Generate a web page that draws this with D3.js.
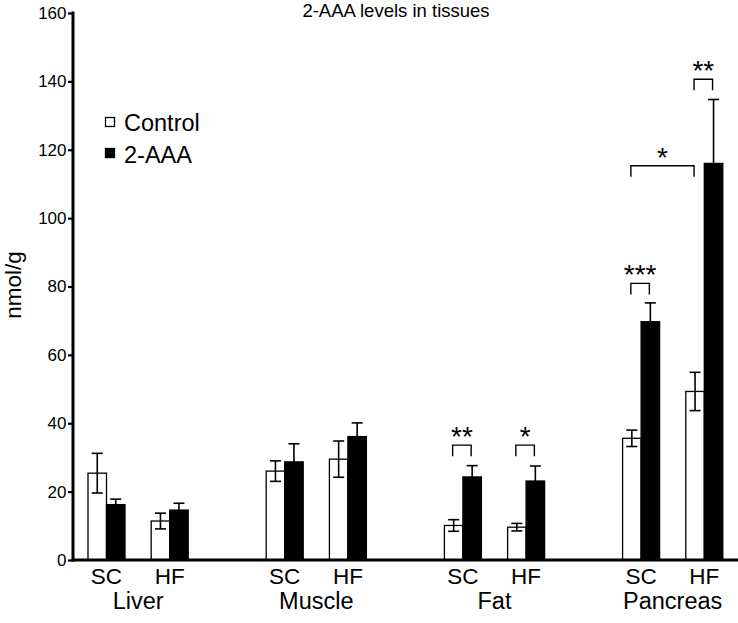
<!DOCTYPE html>
<html><head><meta charset="utf-8">
<script src="https://cdn.jsdelivr.net/npm/d3@7"></script>
<style>body{margin:0;background:#fff}svg{display:block;font-family:"Liberation Sans",Arial,Helvetica,sans-serif}</style>
</head><body><svg id="c" width="738" height="623"></svg>
<script>
const tissues = ["Liver","Muscle","Fat","Pancreas"];
const diets = ["SC","HF"];
const series = ["Control","2-AAA"];
// mean values [tissue][diet]
const controlMean = [[25.4,11.4],[26.0,29.5],[10.1,9.6],[35.6,49.3]];
const controlErr  = [[5.8,2.3],[3.0,5.3],[1.7,1.1],[2.4,5.6]];
const aaaMean     = [[16.2,14.6],[28.7,36.1],[24.3,23.1],[69.7,116.0]];
const aaaErr      = [[1.6,2.0],[5.3,4.0],[3.3,4.4],[5.5,18.7]];
const yTicks = [0,20,40,60,80,100,120,140,160];
// significance brackets: [tissue, fromDiet, fromSeries, toDiet, toSeries, level, label]
const sigs = [
  ["Fat","SC","Control","SC","2-AAA",33.6,"**"],
  ["Fat","HF","Control","HF","2-AAA",33.6,"*"],
  ["Pancreas","SC","Control","SC","2-AAA",80.9,"***"],
  ["Pancreas","HF","Control","HF","2-AAA",140.6,"**"],
  ["Pancreas","SC","Control","HF","Control",115.3,"*"]
];

const svg = d3.select("#c");
const y = d3.scaleLinear().domain([0,160]).range([560,13]);
const xT = d3.scaleBand().domain(tissues).range([88,722.8]).paddingInner(0.4377).paddingOuter(0);
const xD = d3.scaleBand().domain(diets).range([0,xT.bandwidth()]).paddingInner(0.4146).paddingOuter(0);
const xS = d3.scaleBand().domain(series).range([0,xD.bandwidth()]);
const bx = (t,d,s)=>xT(t)+xD(d)+xS(s);
const cx = (t,d,s)=>bx(t,d,s)+xS.bandwidth()/2;

const data = [];
tissues.forEach((t,i)=>diets.forEach((d,j)=>{
  data.push({t,d,s:"Control",v:controlMean[i][j],e:controlErr[i][j]});
  data.push({t,d,s:"2-AAA",v:aaaMean[i][j],e:aaaErr[i][j]});
}));

// bars
svg.append("g").selectAll("rect").data(data).join("rect")
  .attr("x",d=>bx(d.t,d.d,d.s)).attr("y",d=>y(d.v))
  .attr("width",xS.bandwidth()).attr("height",d=>y(0)-y(d.v))
  .attr("fill",d=>d.s==="Control"?"#fff":"#000")
  .attr("stroke","#000").attr("stroke-width",1.3);

// error bars
const eg = svg.append("g").attr("stroke","#000").attr("stroke-width",1.6).attr("fill","none");
data.forEach(d=>{
  const c = cx(d.t,d.d,d.s), cap=5.5;
  const lo = d.s==="Control"? d.v-d.e : d.v;
  eg.append("line").attr("x1",c).attr("x2",c).attr("y1",y(lo)).attr("y2",y(d.v+d.e));
  eg.append("line").attr("x1",c-cap).attr("x2",c+cap).attr("y1",y(d.v+d.e)).attr("y2",y(d.v+d.e));
  if(d.s==="Control") eg.append("line").attr("x1",c-cap).attr("x2",c+cap).attr("y1",y(lo)).attr("y2",y(lo));
});

// y axis
const ya = svg.append("g").attr("transform","translate(73,0)")
  .call(d3.axisLeft(y).tickValues(yTicks).tickSize(5).tickPadding(1.5).tickFormat(d3.format("d")));
ya.select(".domain").attr("stroke-width",3).attr("d","M0,11.5V561.5");
ya.selectAll(".tick line").attr("stroke-width",2.2);
ya.selectAll(".tick text").attr("font-size",17).attr("fill","#000").attr("font-family","Liberation Sans, Arial, sans-serif");
// x axis baseline
svg.append("line").attr("x1",71.5).attr("x2",738).attr("y1",y(0)).attr("y2",y(0)).attr("stroke","#000").attr("stroke-width",3);

// x labels
tissues.forEach(t=>{
  diets.forEach(d=>{
    svg.append("text").attr("x",xT(t)+xD(d)+xD.bandwidth()/2).attr("y",583.5)
      .attr("text-anchor","middle").attr("font-size",22.5).text(d);
  });
  svg.append("text").attr("x",xT(t)+xT.bandwidth()/2).attr("y",609)
    .attr("text-anchor","middle").attr("font-size",23.5).text(t);
});

// title & y label
svg.append("text").attr("x",396).attr("y",17).attr("text-anchor","middle").attr("font-size",18.5).text("2-AAA levels in tissues");
svg.append("text").attr("transform","translate(21,285) rotate(-90)").attr("text-anchor","middle").attr("font-size",22.5).text("nmol/g");

// legend
const lg = svg.append("g");
series.forEach((s,i)=>{
  lg.append("rect").attr("x",105.5).attr("y",117.5+i*31).attr("width",9).attr("height",9)
    .attr("fill",s==="Control"?"#fff":"#000").attr("stroke","#000").attr("stroke-width",1.3);
  lg.append("text").attr("x",124).attr("y",130.5+i*32).attr("font-size",23.5).text(s);
});

// significance brackets
const sg = svg.append("g");
sigs.forEach(([t,d1,s1,d2,s2,lvl,lab])=>{
  const x1 = cx(t,d1,s1)-1, x2 = cx(t,d2,s2)-1, yy = y(lvl), leg = 11;
  sg.append("path").attr("d",`M${x1},${yy+leg}V${yy}H${x2}V${yy+leg}`)
    .attr("fill","none").attr("stroke","#000").attr("stroke-width",1.4);
  sg.append("text").attr("x",(x1+x2)/2).attr("y",yy+1).attr("text-anchor","middle")
    .attr("font-size",28).text(lab);
});
</script></body></html>
